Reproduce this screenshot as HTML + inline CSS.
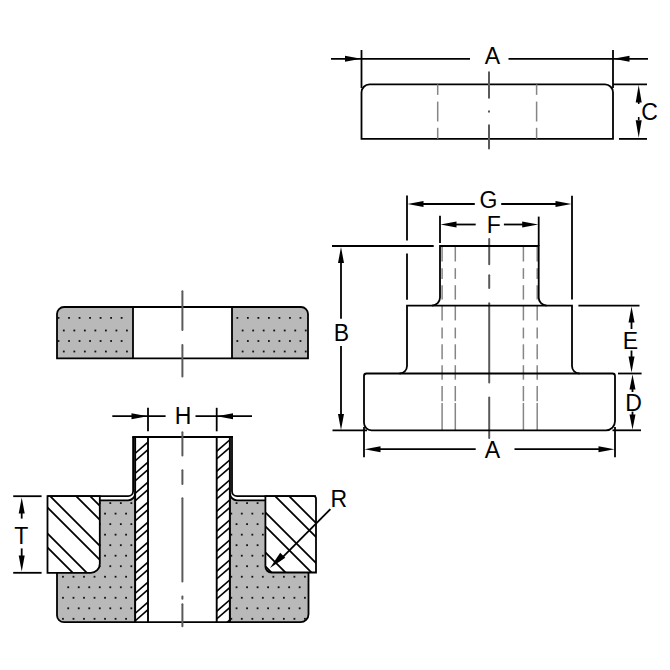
<!DOCTYPE html>
<html><head><meta charset="utf-8"><style>
html,body{margin:0;padding:0;background:#fff;}
svg{display:block;}
text{font-family:"Liberation Sans",sans-serif;fill:#000;}
</style></head><body>
<svg width="670" height="670" viewBox="0 0 670 670">
<rect width="670" height="670" fill="#fff"/>
<path d="M361.5,138.9 V92.4 A8,8 0 0 1 369.5,84.4 H605 A8,8 0 0 1 613,92.4 V138.9 Z" fill="none" stroke="#000" stroke-width="1.8"/>
<line x1="361.5" y1="50" x2="361.5" y2="88" stroke="#000" stroke-width="1.8" stroke-linecap="butt"/>
<line x1="613" y1="50" x2="613" y2="88" stroke="#000" stroke-width="1.8" stroke-linecap="butt"/>
<line x1="613" y1="84.4" x2="647" y2="84.4" stroke="#000" stroke-width="1.8" stroke-linecap="butt"/>
<line x1="619" y1="138.9" x2="647" y2="138.9" stroke="#000" stroke-width="1.8" stroke-linecap="butt"/>
<line x1="331" y1="58.8" x2="470" y2="58.8" stroke="#000" stroke-width="1.8" stroke-linecap="butt"/>
<line x1="508.5" y1="58.8" x2="648" y2="58.8" stroke="#000" stroke-width="1.8" stroke-linecap="butt"/>
<polygon points="361,58.8 345.00,61.80 345.00,55.80" fill="#000"/>
<polygon points="613.5,58.8 629.50,55.80 629.50,61.80" fill="#000"/>
<text x="492.4" y="63.9" font-size="23" text-anchor="middle">A</text>
<polygon points="638.7,85 641.70,102.50 635.70,102.50" fill="#000"/>
<polygon points="638.7,137.8 635.70,120.30 641.70,120.30" fill="#000"/>
<line x1="638.7" y1="100" x2="638.7" y2="104" stroke="#000" stroke-width="1.6" stroke-linecap="butt"/>
<line x1="638.7" y1="117" x2="638.7" y2="120" stroke="#000" stroke-width="1.6" stroke-linecap="butt"/>
<text x="649.5" y="119.8" font-size="23" text-anchor="middle">C</text>
<line x1="489" y1="72.2" x2="489" y2="97.8" stroke="#5a5a5a" stroke-width="2.0" stroke-linecap="round"/>
<line x1="489" y1="111.8" x2="489" y2="111.2" stroke="#5a5a5a" stroke-width="2.0" stroke-linecap="round"/>
<line x1="489" y1="125.2" x2="489" y2="148.6" stroke="#5a5a5a" stroke-width="2.0" stroke-linecap="round"/>
<line x1="437.7" y1="84.4" x2="437.7" y2="94.9" stroke="#858585" stroke-width="1.5" stroke-linecap="butt"/>
<line x1="437.7" y1="101.6" x2="437.7" y2="121.5" stroke="#858585" stroke-width="1.5" stroke-linecap="butt"/>
<line x1="437.7" y1="127.8" x2="437.7" y2="138.7" stroke="#858585" stroke-width="1.5" stroke-linecap="butt"/>
<line x1="536.6" y1="84.4" x2="536.6" y2="94.9" stroke="#858585" stroke-width="1.5" stroke-linecap="butt"/>
<line x1="536.6" y1="101.6" x2="536.6" y2="121.5" stroke="#858585" stroke-width="1.5" stroke-linecap="butt"/>
<line x1="536.6" y1="127.8" x2="536.6" y2="138.7" stroke="#858585" stroke-width="1.5" stroke-linecap="butt"/>
<line x1="442.1" y1="246" x2="442.1" y2="261.5" stroke="#858585" stroke-width="1.5" stroke-linecap="butt"/>
<line x1="442.1" y1="268.2" x2="442.1" y2="278.9" stroke="#858585" stroke-width="1.5" stroke-linecap="butt"/>
<line x1="442.1" y1="285.2" x2="442.1" y2="299.6" stroke="#858585" stroke-width="1.5" stroke-linecap="butt"/>
<line x1="442.1" y1="306" x2="442.1" y2="320.4" stroke="#858585" stroke-width="1.5" stroke-linecap="butt"/>
<line x1="442.1" y1="327.6" x2="442.1" y2="338.4" stroke="#858585" stroke-width="1.5" stroke-linecap="butt"/>
<line x1="442.1" y1="344.3" x2="442.1" y2="359.3" stroke="#858585" stroke-width="1.5" stroke-linecap="butt"/>
<line x1="442.1" y1="365.2" x2="442.1" y2="379.7" stroke="#858585" stroke-width="1.5" stroke-linecap="butt"/>
<line x1="442.1" y1="386" x2="442.1" y2="401.2" stroke="#858585" stroke-width="1.5" stroke-linecap="butt"/>
<line x1="442.1" y1="403" x2="442.1" y2="430" stroke="#858585" stroke-width="1.5" stroke-linecap="butt"/>
<line x1="455.3" y1="246" x2="455.3" y2="261.5" stroke="#858585" stroke-width="1.5" stroke-linecap="butt"/>
<line x1="455.3" y1="268.2" x2="455.3" y2="278.9" stroke="#858585" stroke-width="1.5" stroke-linecap="butt"/>
<line x1="455.3" y1="285.2" x2="455.3" y2="299.6" stroke="#858585" stroke-width="1.5" stroke-linecap="butt"/>
<line x1="455.3" y1="306" x2="455.3" y2="320.4" stroke="#858585" stroke-width="1.5" stroke-linecap="butt"/>
<line x1="455.3" y1="327.6" x2="455.3" y2="338.4" stroke="#858585" stroke-width="1.5" stroke-linecap="butt"/>
<line x1="455.3" y1="344.3" x2="455.3" y2="359.3" stroke="#858585" stroke-width="1.5" stroke-linecap="butt"/>
<line x1="455.3" y1="365.2" x2="455.3" y2="379.7" stroke="#858585" stroke-width="1.5" stroke-linecap="butt"/>
<line x1="455.3" y1="386" x2="455.3" y2="401.2" stroke="#858585" stroke-width="1.5" stroke-linecap="butt"/>
<line x1="455.3" y1="403" x2="455.3" y2="430" stroke="#858585" stroke-width="1.5" stroke-linecap="butt"/>
<line x1="523.4" y1="246" x2="523.4" y2="261.5" stroke="#858585" stroke-width="1.5" stroke-linecap="butt"/>
<line x1="523.4" y1="268.2" x2="523.4" y2="278.9" stroke="#858585" stroke-width="1.5" stroke-linecap="butt"/>
<line x1="523.4" y1="285.2" x2="523.4" y2="299.6" stroke="#858585" stroke-width="1.5" stroke-linecap="butt"/>
<line x1="523.4" y1="306" x2="523.4" y2="320.4" stroke="#858585" stroke-width="1.5" stroke-linecap="butt"/>
<line x1="523.4" y1="327.6" x2="523.4" y2="338.4" stroke="#858585" stroke-width="1.5" stroke-linecap="butt"/>
<line x1="523.4" y1="344.3" x2="523.4" y2="359.3" stroke="#858585" stroke-width="1.5" stroke-linecap="butt"/>
<line x1="523.4" y1="365.2" x2="523.4" y2="379.7" stroke="#858585" stroke-width="1.5" stroke-linecap="butt"/>
<line x1="523.4" y1="386" x2="523.4" y2="401.2" stroke="#858585" stroke-width="1.5" stroke-linecap="butt"/>
<line x1="523.4" y1="403" x2="523.4" y2="430" stroke="#858585" stroke-width="1.5" stroke-linecap="butt"/>
<line x1="537.2" y1="246" x2="537.2" y2="261.5" stroke="#858585" stroke-width="1.5" stroke-linecap="butt"/>
<line x1="537.2" y1="268.2" x2="537.2" y2="278.9" stroke="#858585" stroke-width="1.5" stroke-linecap="butt"/>
<line x1="537.2" y1="285.2" x2="537.2" y2="299.6" stroke="#858585" stroke-width="1.5" stroke-linecap="butt"/>
<line x1="537.2" y1="306" x2="537.2" y2="320.4" stroke="#858585" stroke-width="1.5" stroke-linecap="butt"/>
<line x1="537.2" y1="327.6" x2="537.2" y2="338.4" stroke="#858585" stroke-width="1.5" stroke-linecap="butt"/>
<line x1="537.2" y1="344.3" x2="537.2" y2="359.3" stroke="#858585" stroke-width="1.5" stroke-linecap="butt"/>
<line x1="537.2" y1="365.2" x2="537.2" y2="379.7" stroke="#858585" stroke-width="1.5" stroke-linecap="butt"/>
<line x1="537.2" y1="386" x2="537.2" y2="401.2" stroke="#858585" stroke-width="1.5" stroke-linecap="butt"/>
<line x1="537.2" y1="403" x2="537.2" y2="430" stroke="#858585" stroke-width="1.5" stroke-linecap="butt"/>
<line x1="489.2" y1="239" x2="489.2" y2="264.3" stroke="#5a5a5a" stroke-width="2.0" stroke-linecap="round"/>
<line x1="489.2" y1="275.3" x2="489.2" y2="288.1" stroke="#5a5a5a" stroke-width="2.0" stroke-linecap="round"/>
<line x1="489.2" y1="303.2" x2="489.2" y2="382.4" stroke="#5a5a5a" stroke-width="2.0" stroke-linecap="round"/>
<line x1="489.2" y1="397.5" x2="489.2" y2="438" stroke="#5a5a5a" stroke-width="2.0" stroke-linecap="round"/>
<path d="M440,246 H538.7 V297.5 A8,8 0 0 0 546.7,305.6 H572 V366 A7.5,7.5 0 0 0 579.5,373.5 H612.5 A2.5,2.5 0 0 1 615,376 V421 A9,9 0 0 1 606,430.3 H371.5 A7.5,7.5 0 0 1 364,422.8 V376 A2.5,2.5 0 0 1 366.5,373.5 H399.5 A7.5,7.5 0 0 0 407,366 V305.6 H432 A8,8 0 0 0 440,297.5 Z" fill="none" stroke="#000" stroke-width="1.8"/>
<line x1="432" y1="305.6" x2="546.7" y2="305.6" stroke="#000" stroke-width="1.8" stroke-linecap="butt"/>
<line x1="399.5" y1="373.5" x2="579.5" y2="373.5" stroke="#000" stroke-width="1.8" stroke-linecap="butt"/>
<line x1="407" y1="195.5" x2="407" y2="240.4" stroke="#000" stroke-width="1.8" stroke-linecap="butt"/>
<line x1="407" y1="253.5" x2="407" y2="299.8" stroke="#000" stroke-width="1.8" stroke-linecap="butt"/>
<line x1="572" y1="195.7" x2="572" y2="299.4" stroke="#000" stroke-width="1.8" stroke-linecap="butt"/>
<line x1="440" y1="215.8" x2="440" y2="243" stroke="#000" stroke-width="1.8" stroke-linecap="butt"/>
<line x1="538.7" y1="216.6" x2="538.7" y2="246" stroke="#000" stroke-width="1.8" stroke-linecap="butt"/>
<line x1="332" y1="246" x2="433.7" y2="246" stroke="#000" stroke-width="1.8" stroke-linecap="butt"/>
<line x1="332.5" y1="430.3" x2="367" y2="430.3" stroke="#000" stroke-width="1.8" stroke-linecap="butt"/>
<line x1="612.5" y1="430.3" x2="641" y2="430.3" stroke="#000" stroke-width="1.8" stroke-linecap="butt"/>
<line x1="578.4" y1="305.6" x2="639.5" y2="305.6" stroke="#000" stroke-width="1.8" stroke-linecap="butt"/>
<line x1="618" y1="373.5" x2="641.6" y2="373.5" stroke="#000" stroke-width="1.8" stroke-linecap="butt"/>
<line x1="364" y1="427" x2="364" y2="457.3" stroke="#000" stroke-width="1.8" stroke-linecap="butt"/>
<line x1="615" y1="427" x2="615" y2="457.3" stroke="#000" stroke-width="1.8" stroke-linecap="butt"/>
<line x1="415" y1="204" x2="474.8" y2="204" stroke="#000" stroke-width="1.8" stroke-linecap="butt"/>
<line x1="501.2" y1="204" x2="564" y2="204" stroke="#000" stroke-width="1.8" stroke-linecap="butt"/>
<polygon points="407.5,204 423.50,201.00 423.50,207.00" fill="#000"/>
<polygon points="571.5,204 555.50,207.00 555.50,201.00" fill="#000"/>
<text x="488.5" y="207.8" font-size="23" text-anchor="middle">G</text>
<line x1="448" y1="224.5" x2="475.7" y2="224.5" stroke="#000" stroke-width="1.8" stroke-linecap="butt"/>
<line x1="503.9" y1="224.5" x2="531" y2="224.5" stroke="#000" stroke-width="1.8" stroke-linecap="butt"/>
<polygon points="440.5,224.5 456.50,221.50 456.50,227.50" fill="#000"/>
<polygon points="538.2,224.5 522.20,227.50 522.20,221.50" fill="#000"/>
<text x="493.8" y="232.8" font-size="23" text-anchor="middle">F</text>
<line x1="341" y1="255" x2="341" y2="318.8" stroke="#000" stroke-width="1.8" stroke-linecap="butt"/>
<line x1="341" y1="346.1" x2="341" y2="422" stroke="#000" stroke-width="1.8" stroke-linecap="butt"/>
<polygon points="341,247 344.00,263.00 338.00,263.00" fill="#000"/>
<polygon points="341,430 338.00,414.00 344.00,414.00" fill="#000"/>
<text x="341.3" y="340.7" font-size="23" text-anchor="middle">B</text>
<polygon points="631.5,306.5 634.50,322.50 628.50,322.50" fill="#000"/>
<line x1="631.5" y1="320" x2="631.5" y2="329" stroke="#000" stroke-width="1.8" stroke-linecap="butt"/>
<polygon points="631.5,372.5 628.50,356.50 634.50,356.50" fill="#000"/>
<line x1="631.5" y1="350.5" x2="631.5" y2="358" stroke="#000" stroke-width="1.8" stroke-linecap="butt"/>
<text x="630.4" y="349.1" font-size="23" text-anchor="middle">E</text>
<polygon points="632.5,374.5 635.50,389.50 629.50,389.50" fill="#000"/>
<line x1="632.5" y1="388" x2="632.5" y2="392" stroke="#000" stroke-width="1.8" stroke-linecap="butt"/>
<polygon points="632.5,429.5 629.50,414.50 635.50,414.50" fill="#000"/>
<line x1="632.5" y1="411.6" x2="632.5" y2="416" stroke="#000" stroke-width="1.8" stroke-linecap="butt"/>
<text x="633.6" y="411.0" font-size="23" text-anchor="middle">D</text>
<line x1="372" y1="449.2" x2="475.7" y2="449.2" stroke="#000" stroke-width="1.8" stroke-linecap="butt"/>
<line x1="514.5" y1="449.2" x2="607" y2="449.2" stroke="#000" stroke-width="1.8" stroke-linecap="butt"/>
<polygon points="364.5,449.2 380.50,446.20 380.50,452.20" fill="#000"/>
<polygon points="614.5,449.2 598.50,452.20 598.50,446.20" fill="#000"/>
<text x="492.3" y="457.8" font-size="23" text-anchor="middle">A</text>
<path d="M57,358.4 V314 A7,7 0 0 1 64,307 H133 V358.4 Z" fill="#b9b9b9"/>
<path d="M232,358.4 V307 H301 A7,7 0 0 1 308,314 V358.4 Z" fill="#b9b9b9"/>
<rect x="57.60" y="317.00" width="1.8" height="1.8" fill="#111"/>
<rect x="68.12" y="317.00" width="1.8" height="1.8" fill="#111"/>
<rect x="78.64" y="317.00" width="1.8" height="1.8" fill="#111"/>
<rect x="89.16" y="317.00" width="1.8" height="1.8" fill="#111"/>
<rect x="99.68" y="317.00" width="1.8" height="1.8" fill="#111"/>
<rect x="110.20" y="317.00" width="1.8" height="1.8" fill="#111"/>
<rect x="120.72" y="317.00" width="1.8" height="1.8" fill="#111"/>
<rect x="62.90" y="329.60" width="1.8" height="1.8" fill="#111"/>
<rect x="73.42" y="329.60" width="1.8" height="1.8" fill="#111"/>
<rect x="83.94" y="329.60" width="1.8" height="1.8" fill="#111"/>
<rect x="94.46" y="329.60" width="1.8" height="1.8" fill="#111"/>
<rect x="104.98" y="329.60" width="1.8" height="1.8" fill="#111"/>
<rect x="115.50" y="329.60" width="1.8" height="1.8" fill="#111"/>
<rect x="126.02" y="329.60" width="1.8" height="1.8" fill="#111"/>
<rect x="57.60" y="340.10" width="1.8" height="1.8" fill="#111"/>
<rect x="68.12" y="340.10" width="1.8" height="1.8" fill="#111"/>
<rect x="78.64" y="340.10" width="1.8" height="1.8" fill="#111"/>
<rect x="89.16" y="340.10" width="1.8" height="1.8" fill="#111"/>
<rect x="99.68" y="340.10" width="1.8" height="1.8" fill="#111"/>
<rect x="110.20" y="340.10" width="1.8" height="1.8" fill="#111"/>
<rect x="120.72" y="340.10" width="1.8" height="1.8" fill="#111"/>
<rect x="62.90" y="350.60" width="1.8" height="1.8" fill="#111"/>
<rect x="73.42" y="350.60" width="1.8" height="1.8" fill="#111"/>
<rect x="83.94" y="350.60" width="1.8" height="1.8" fill="#111"/>
<rect x="94.46" y="350.60" width="1.8" height="1.8" fill="#111"/>
<rect x="104.98" y="350.60" width="1.8" height="1.8" fill="#111"/>
<rect x="115.50" y="350.60" width="1.8" height="1.8" fill="#111"/>
<rect x="126.02" y="350.60" width="1.8" height="1.8" fill="#111"/>
<rect x="236.44" y="317.00" width="1.8" height="1.8" fill="#111"/>
<rect x="246.96" y="317.00" width="1.8" height="1.8" fill="#111"/>
<rect x="257.48" y="317.00" width="1.8" height="1.8" fill="#111"/>
<rect x="268.00" y="317.00" width="1.8" height="1.8" fill="#111"/>
<rect x="278.52" y="317.00" width="1.8" height="1.8" fill="#111"/>
<rect x="289.04" y="317.00" width="1.8" height="1.8" fill="#111"/>
<rect x="299.56" y="317.00" width="1.8" height="1.8" fill="#111"/>
<rect x="241.74" y="329.60" width="1.8" height="1.8" fill="#111"/>
<rect x="252.26" y="329.60" width="1.8" height="1.8" fill="#111"/>
<rect x="262.78" y="329.60" width="1.8" height="1.8" fill="#111"/>
<rect x="273.30" y="329.60" width="1.8" height="1.8" fill="#111"/>
<rect x="283.82" y="329.60" width="1.8" height="1.8" fill="#111"/>
<rect x="294.34" y="329.60" width="1.8" height="1.8" fill="#111"/>
<rect x="304.86" y="329.60" width="1.8" height="1.8" fill="#111"/>
<rect x="236.44" y="340.10" width="1.8" height="1.8" fill="#111"/>
<rect x="246.96" y="340.10" width="1.8" height="1.8" fill="#111"/>
<rect x="257.48" y="340.10" width="1.8" height="1.8" fill="#111"/>
<rect x="268.00" y="340.10" width="1.8" height="1.8" fill="#111"/>
<rect x="278.52" y="340.10" width="1.8" height="1.8" fill="#111"/>
<rect x="289.04" y="340.10" width="1.8" height="1.8" fill="#111"/>
<rect x="299.56" y="340.10" width="1.8" height="1.8" fill="#111"/>
<rect x="241.74" y="350.60" width="1.8" height="1.8" fill="#111"/>
<rect x="252.26" y="350.60" width="1.8" height="1.8" fill="#111"/>
<rect x="262.78" y="350.60" width="1.8" height="1.8" fill="#111"/>
<rect x="273.30" y="350.60" width="1.8" height="1.8" fill="#111"/>
<rect x="283.82" y="350.60" width="1.8" height="1.8" fill="#111"/>
<rect x="294.34" y="350.60" width="1.8" height="1.8" fill="#111"/>
<rect x="304.86" y="350.60" width="1.8" height="1.8" fill="#111"/>
<path d="M57,358.4 V314 A7,7 0 0 1 64,307 H301 A7,7 0 0 1 308,314 V358.4 Z" fill="none" stroke="#000" stroke-width="1.8"/>
<line x1="133" y1="307" x2="133" y2="358.4" stroke="#000" stroke-width="1.8" stroke-linecap="butt"/>
<line x1="232" y1="307" x2="232" y2="358.4" stroke="#000" stroke-width="1.8" stroke-linecap="butt"/>
<line x1="182.4" y1="291.2" x2="182.4" y2="330" stroke="#5a5a5a" stroke-width="2.0" stroke-linecap="round"/>
<line x1="182.4" y1="345" x2="182.4" y2="376.5" stroke="#5a5a5a" stroke-width="2.0" stroke-linecap="round"/>
<path d="M135.1,493.3 A7,7 0 0 1 128.1,500.3 H90 V572.8 H57 V615 A7,7 0 0 0 64,622.2 H300.5 A8,8 0 0 0 308.5,614.2 V572.5 H275 V500.3 H237 A7,7 0 0 1 230,493.3 V622.2 H135.1 Z" fill="#b9b9b9"/>
<clipPath id="bc"><path d="M135.1,493.3 A7,7 0 0 1 128.1,500.3 H90 V572.8 H57 V615 A7,7 0 0 0 64,622.2 H300.5 A8,8 0 0 0 308.5,614.2 V572.5 H275 V500.3 H237 A7,7 0 0 1 230,493.3 V622.2 H135.1 Z"/></clipPath>
<g clip-path="url(#bc)">
<rect x="67.32" y="502.20" width="1.8" height="1.8" fill="#111"/>
<rect x="77.84" y="502.20" width="1.8" height="1.8" fill="#111"/>
<rect x="88.36" y="502.20" width="1.8" height="1.8" fill="#111"/>
<rect x="98.88" y="502.20" width="1.8" height="1.8" fill="#111"/>
<rect x="109.40" y="502.20" width="1.8" height="1.8" fill="#111"/>
<rect x="119.92" y="502.20" width="1.8" height="1.8" fill="#111"/>
<rect x="130.44" y="502.20" width="1.8" height="1.8" fill="#111"/>
<rect x="140.96" y="502.20" width="1.8" height="1.8" fill="#111"/>
<rect x="151.48" y="502.20" width="1.8" height="1.8" fill="#111"/>
<rect x="162.00" y="502.20" width="1.8" height="1.8" fill="#111"/>
<rect x="172.52" y="502.20" width="1.8" height="1.8" fill="#111"/>
<rect x="183.04" y="502.20" width="1.8" height="1.8" fill="#111"/>
<rect x="193.56" y="502.20" width="1.8" height="1.8" fill="#111"/>
<rect x="204.08" y="502.20" width="1.8" height="1.8" fill="#111"/>
<rect x="214.60" y="502.20" width="1.8" height="1.8" fill="#111"/>
<rect x="225.12" y="502.20" width="1.8" height="1.8" fill="#111"/>
<rect x="235.64" y="502.20" width="1.8" height="1.8" fill="#111"/>
<rect x="246.16" y="502.20" width="1.8" height="1.8" fill="#111"/>
<rect x="256.68" y="502.20" width="1.8" height="1.8" fill="#111"/>
<rect x="267.20" y="502.20" width="1.8" height="1.8" fill="#111"/>
<rect x="277.72" y="502.20" width="1.8" height="1.8" fill="#111"/>
<rect x="288.24" y="502.20" width="1.8" height="1.8" fill="#111"/>
<rect x="298.76" y="502.20" width="1.8" height="1.8" fill="#111"/>
<rect x="62.06" y="512.72" width="1.8" height="1.8" fill="#111"/>
<rect x="72.58" y="512.72" width="1.8" height="1.8" fill="#111"/>
<rect x="83.10" y="512.72" width="1.8" height="1.8" fill="#111"/>
<rect x="93.62" y="512.72" width="1.8" height="1.8" fill="#111"/>
<rect x="104.14" y="512.72" width="1.8" height="1.8" fill="#111"/>
<rect x="114.66" y="512.72" width="1.8" height="1.8" fill="#111"/>
<rect x="125.18" y="512.72" width="1.8" height="1.8" fill="#111"/>
<rect x="135.70" y="512.72" width="1.8" height="1.8" fill="#111"/>
<rect x="146.22" y="512.72" width="1.8" height="1.8" fill="#111"/>
<rect x="156.74" y="512.72" width="1.8" height="1.8" fill="#111"/>
<rect x="167.26" y="512.72" width="1.8" height="1.8" fill="#111"/>
<rect x="177.78" y="512.72" width="1.8" height="1.8" fill="#111"/>
<rect x="188.30" y="512.72" width="1.8" height="1.8" fill="#111"/>
<rect x="198.82" y="512.72" width="1.8" height="1.8" fill="#111"/>
<rect x="209.34" y="512.72" width="1.8" height="1.8" fill="#111"/>
<rect x="219.86" y="512.72" width="1.8" height="1.8" fill="#111"/>
<rect x="230.38" y="512.72" width="1.8" height="1.8" fill="#111"/>
<rect x="240.90" y="512.72" width="1.8" height="1.8" fill="#111"/>
<rect x="251.42" y="512.72" width="1.8" height="1.8" fill="#111"/>
<rect x="261.94" y="512.72" width="1.8" height="1.8" fill="#111"/>
<rect x="272.46" y="512.72" width="1.8" height="1.8" fill="#111"/>
<rect x="282.98" y="512.72" width="1.8" height="1.8" fill="#111"/>
<rect x="293.50" y="512.72" width="1.8" height="1.8" fill="#111"/>
<rect x="304.02" y="512.72" width="1.8" height="1.8" fill="#111"/>
<rect x="67.32" y="523.24" width="1.8" height="1.8" fill="#111"/>
<rect x="77.84" y="523.24" width="1.8" height="1.8" fill="#111"/>
<rect x="88.36" y="523.24" width="1.8" height="1.8" fill="#111"/>
<rect x="98.88" y="523.24" width="1.8" height="1.8" fill="#111"/>
<rect x="109.40" y="523.24" width="1.8" height="1.8" fill="#111"/>
<rect x="119.92" y="523.24" width="1.8" height="1.8" fill="#111"/>
<rect x="130.44" y="523.24" width="1.8" height="1.8" fill="#111"/>
<rect x="140.96" y="523.24" width="1.8" height="1.8" fill="#111"/>
<rect x="151.48" y="523.24" width="1.8" height="1.8" fill="#111"/>
<rect x="162.00" y="523.24" width="1.8" height="1.8" fill="#111"/>
<rect x="172.52" y="523.24" width="1.8" height="1.8" fill="#111"/>
<rect x="183.04" y="523.24" width="1.8" height="1.8" fill="#111"/>
<rect x="193.56" y="523.24" width="1.8" height="1.8" fill="#111"/>
<rect x="204.08" y="523.24" width="1.8" height="1.8" fill="#111"/>
<rect x="214.60" y="523.24" width="1.8" height="1.8" fill="#111"/>
<rect x="225.12" y="523.24" width="1.8" height="1.8" fill="#111"/>
<rect x="235.64" y="523.24" width="1.8" height="1.8" fill="#111"/>
<rect x="246.16" y="523.24" width="1.8" height="1.8" fill="#111"/>
<rect x="256.68" y="523.24" width="1.8" height="1.8" fill="#111"/>
<rect x="267.20" y="523.24" width="1.8" height="1.8" fill="#111"/>
<rect x="277.72" y="523.24" width="1.8" height="1.8" fill="#111"/>
<rect x="288.24" y="523.24" width="1.8" height="1.8" fill="#111"/>
<rect x="298.76" y="523.24" width="1.8" height="1.8" fill="#111"/>
<rect x="62.06" y="533.76" width="1.8" height="1.8" fill="#111"/>
<rect x="72.58" y="533.76" width="1.8" height="1.8" fill="#111"/>
<rect x="83.10" y="533.76" width="1.8" height="1.8" fill="#111"/>
<rect x="93.62" y="533.76" width="1.8" height="1.8" fill="#111"/>
<rect x="104.14" y="533.76" width="1.8" height="1.8" fill="#111"/>
<rect x="114.66" y="533.76" width="1.8" height="1.8" fill="#111"/>
<rect x="125.18" y="533.76" width="1.8" height="1.8" fill="#111"/>
<rect x="135.70" y="533.76" width="1.8" height="1.8" fill="#111"/>
<rect x="146.22" y="533.76" width="1.8" height="1.8" fill="#111"/>
<rect x="156.74" y="533.76" width="1.8" height="1.8" fill="#111"/>
<rect x="167.26" y="533.76" width="1.8" height="1.8" fill="#111"/>
<rect x="177.78" y="533.76" width="1.8" height="1.8" fill="#111"/>
<rect x="188.30" y="533.76" width="1.8" height="1.8" fill="#111"/>
<rect x="198.82" y="533.76" width="1.8" height="1.8" fill="#111"/>
<rect x="209.34" y="533.76" width="1.8" height="1.8" fill="#111"/>
<rect x="219.86" y="533.76" width="1.8" height="1.8" fill="#111"/>
<rect x="230.38" y="533.76" width="1.8" height="1.8" fill="#111"/>
<rect x="240.90" y="533.76" width="1.8" height="1.8" fill="#111"/>
<rect x="251.42" y="533.76" width="1.8" height="1.8" fill="#111"/>
<rect x="261.94" y="533.76" width="1.8" height="1.8" fill="#111"/>
<rect x="272.46" y="533.76" width="1.8" height="1.8" fill="#111"/>
<rect x="282.98" y="533.76" width="1.8" height="1.8" fill="#111"/>
<rect x="293.50" y="533.76" width="1.8" height="1.8" fill="#111"/>
<rect x="304.02" y="533.76" width="1.8" height="1.8" fill="#111"/>
<rect x="67.32" y="544.28" width="1.8" height="1.8" fill="#111"/>
<rect x="77.84" y="544.28" width="1.8" height="1.8" fill="#111"/>
<rect x="88.36" y="544.28" width="1.8" height="1.8" fill="#111"/>
<rect x="98.88" y="544.28" width="1.8" height="1.8" fill="#111"/>
<rect x="109.40" y="544.28" width="1.8" height="1.8" fill="#111"/>
<rect x="119.92" y="544.28" width="1.8" height="1.8" fill="#111"/>
<rect x="130.44" y="544.28" width="1.8" height="1.8" fill="#111"/>
<rect x="140.96" y="544.28" width="1.8" height="1.8" fill="#111"/>
<rect x="151.48" y="544.28" width="1.8" height="1.8" fill="#111"/>
<rect x="162.00" y="544.28" width="1.8" height="1.8" fill="#111"/>
<rect x="172.52" y="544.28" width="1.8" height="1.8" fill="#111"/>
<rect x="183.04" y="544.28" width="1.8" height="1.8" fill="#111"/>
<rect x="193.56" y="544.28" width="1.8" height="1.8" fill="#111"/>
<rect x="204.08" y="544.28" width="1.8" height="1.8" fill="#111"/>
<rect x="214.60" y="544.28" width="1.8" height="1.8" fill="#111"/>
<rect x="225.12" y="544.28" width="1.8" height="1.8" fill="#111"/>
<rect x="235.64" y="544.28" width="1.8" height="1.8" fill="#111"/>
<rect x="246.16" y="544.28" width="1.8" height="1.8" fill="#111"/>
<rect x="256.68" y="544.28" width="1.8" height="1.8" fill="#111"/>
<rect x="267.20" y="544.28" width="1.8" height="1.8" fill="#111"/>
<rect x="277.72" y="544.28" width="1.8" height="1.8" fill="#111"/>
<rect x="288.24" y="544.28" width="1.8" height="1.8" fill="#111"/>
<rect x="298.76" y="544.28" width="1.8" height="1.8" fill="#111"/>
<rect x="62.06" y="554.80" width="1.8" height="1.8" fill="#111"/>
<rect x="72.58" y="554.80" width="1.8" height="1.8" fill="#111"/>
<rect x="83.10" y="554.80" width="1.8" height="1.8" fill="#111"/>
<rect x="93.62" y="554.80" width="1.8" height="1.8" fill="#111"/>
<rect x="104.14" y="554.80" width="1.8" height="1.8" fill="#111"/>
<rect x="114.66" y="554.80" width="1.8" height="1.8" fill="#111"/>
<rect x="125.18" y="554.80" width="1.8" height="1.8" fill="#111"/>
<rect x="135.70" y="554.80" width="1.8" height="1.8" fill="#111"/>
<rect x="146.22" y="554.80" width="1.8" height="1.8" fill="#111"/>
<rect x="156.74" y="554.80" width="1.8" height="1.8" fill="#111"/>
<rect x="167.26" y="554.80" width="1.8" height="1.8" fill="#111"/>
<rect x="177.78" y="554.80" width="1.8" height="1.8" fill="#111"/>
<rect x="188.30" y="554.80" width="1.8" height="1.8" fill="#111"/>
<rect x="198.82" y="554.80" width="1.8" height="1.8" fill="#111"/>
<rect x="209.34" y="554.80" width="1.8" height="1.8" fill="#111"/>
<rect x="219.86" y="554.80" width="1.8" height="1.8" fill="#111"/>
<rect x="230.38" y="554.80" width="1.8" height="1.8" fill="#111"/>
<rect x="240.90" y="554.80" width="1.8" height="1.8" fill="#111"/>
<rect x="251.42" y="554.80" width="1.8" height="1.8" fill="#111"/>
<rect x="261.94" y="554.80" width="1.8" height="1.8" fill="#111"/>
<rect x="272.46" y="554.80" width="1.8" height="1.8" fill="#111"/>
<rect x="282.98" y="554.80" width="1.8" height="1.8" fill="#111"/>
<rect x="293.50" y="554.80" width="1.8" height="1.8" fill="#111"/>
<rect x="304.02" y="554.80" width="1.8" height="1.8" fill="#111"/>
<rect x="67.32" y="565.32" width="1.8" height="1.8" fill="#111"/>
<rect x="77.84" y="565.32" width="1.8" height="1.8" fill="#111"/>
<rect x="88.36" y="565.32" width="1.8" height="1.8" fill="#111"/>
<rect x="98.88" y="565.32" width="1.8" height="1.8" fill="#111"/>
<rect x="109.40" y="565.32" width="1.8" height="1.8" fill="#111"/>
<rect x="119.92" y="565.32" width="1.8" height="1.8" fill="#111"/>
<rect x="130.44" y="565.32" width="1.8" height="1.8" fill="#111"/>
<rect x="140.96" y="565.32" width="1.8" height="1.8" fill="#111"/>
<rect x="151.48" y="565.32" width="1.8" height="1.8" fill="#111"/>
<rect x="162.00" y="565.32" width="1.8" height="1.8" fill="#111"/>
<rect x="172.52" y="565.32" width="1.8" height="1.8" fill="#111"/>
<rect x="183.04" y="565.32" width="1.8" height="1.8" fill="#111"/>
<rect x="193.56" y="565.32" width="1.8" height="1.8" fill="#111"/>
<rect x="204.08" y="565.32" width="1.8" height="1.8" fill="#111"/>
<rect x="214.60" y="565.32" width="1.8" height="1.8" fill="#111"/>
<rect x="225.12" y="565.32" width="1.8" height="1.8" fill="#111"/>
<rect x="235.64" y="565.32" width="1.8" height="1.8" fill="#111"/>
<rect x="246.16" y="565.32" width="1.8" height="1.8" fill="#111"/>
<rect x="256.68" y="565.32" width="1.8" height="1.8" fill="#111"/>
<rect x="267.20" y="565.32" width="1.8" height="1.8" fill="#111"/>
<rect x="277.72" y="565.32" width="1.8" height="1.8" fill="#111"/>
<rect x="288.24" y="565.32" width="1.8" height="1.8" fill="#111"/>
<rect x="298.76" y="565.32" width="1.8" height="1.8" fill="#111"/>
<rect x="62.06" y="575.84" width="1.8" height="1.8" fill="#111"/>
<rect x="72.58" y="575.84" width="1.8" height="1.8" fill="#111"/>
<rect x="83.10" y="575.84" width="1.8" height="1.8" fill="#111"/>
<rect x="93.62" y="575.84" width="1.8" height="1.8" fill="#111"/>
<rect x="104.14" y="575.84" width="1.8" height="1.8" fill="#111"/>
<rect x="114.66" y="575.84" width="1.8" height="1.8" fill="#111"/>
<rect x="125.18" y="575.84" width="1.8" height="1.8" fill="#111"/>
<rect x="135.70" y="575.84" width="1.8" height="1.8" fill="#111"/>
<rect x="146.22" y="575.84" width="1.8" height="1.8" fill="#111"/>
<rect x="156.74" y="575.84" width="1.8" height="1.8" fill="#111"/>
<rect x="167.26" y="575.84" width="1.8" height="1.8" fill="#111"/>
<rect x="177.78" y="575.84" width="1.8" height="1.8" fill="#111"/>
<rect x="188.30" y="575.84" width="1.8" height="1.8" fill="#111"/>
<rect x="198.82" y="575.84" width="1.8" height="1.8" fill="#111"/>
<rect x="209.34" y="575.84" width="1.8" height="1.8" fill="#111"/>
<rect x="219.86" y="575.84" width="1.8" height="1.8" fill="#111"/>
<rect x="230.38" y="575.84" width="1.8" height="1.8" fill="#111"/>
<rect x="240.90" y="575.84" width="1.8" height="1.8" fill="#111"/>
<rect x="251.42" y="575.84" width="1.8" height="1.8" fill="#111"/>
<rect x="261.94" y="575.84" width="1.8" height="1.8" fill="#111"/>
<rect x="272.46" y="575.84" width="1.8" height="1.8" fill="#111"/>
<rect x="282.98" y="575.84" width="1.8" height="1.8" fill="#111"/>
<rect x="293.50" y="575.84" width="1.8" height="1.8" fill="#111"/>
<rect x="304.02" y="575.84" width="1.8" height="1.8" fill="#111"/>
<rect x="67.32" y="586.36" width="1.8" height="1.8" fill="#111"/>
<rect x="77.84" y="586.36" width="1.8" height="1.8" fill="#111"/>
<rect x="88.36" y="586.36" width="1.8" height="1.8" fill="#111"/>
<rect x="98.88" y="586.36" width="1.8" height="1.8" fill="#111"/>
<rect x="109.40" y="586.36" width="1.8" height="1.8" fill="#111"/>
<rect x="119.92" y="586.36" width="1.8" height="1.8" fill="#111"/>
<rect x="130.44" y="586.36" width="1.8" height="1.8" fill="#111"/>
<rect x="140.96" y="586.36" width="1.8" height="1.8" fill="#111"/>
<rect x="151.48" y="586.36" width="1.8" height="1.8" fill="#111"/>
<rect x="162.00" y="586.36" width="1.8" height="1.8" fill="#111"/>
<rect x="172.52" y="586.36" width="1.8" height="1.8" fill="#111"/>
<rect x="183.04" y="586.36" width="1.8" height="1.8" fill="#111"/>
<rect x="193.56" y="586.36" width="1.8" height="1.8" fill="#111"/>
<rect x="204.08" y="586.36" width="1.8" height="1.8" fill="#111"/>
<rect x="214.60" y="586.36" width="1.8" height="1.8" fill="#111"/>
<rect x="225.12" y="586.36" width="1.8" height="1.8" fill="#111"/>
<rect x="235.64" y="586.36" width="1.8" height="1.8" fill="#111"/>
<rect x="246.16" y="586.36" width="1.8" height="1.8" fill="#111"/>
<rect x="256.68" y="586.36" width="1.8" height="1.8" fill="#111"/>
<rect x="267.20" y="586.36" width="1.8" height="1.8" fill="#111"/>
<rect x="277.72" y="586.36" width="1.8" height="1.8" fill="#111"/>
<rect x="288.24" y="586.36" width="1.8" height="1.8" fill="#111"/>
<rect x="298.76" y="586.36" width="1.8" height="1.8" fill="#111"/>
<rect x="62.06" y="596.88" width="1.8" height="1.8" fill="#111"/>
<rect x="72.58" y="596.88" width="1.8" height="1.8" fill="#111"/>
<rect x="83.10" y="596.88" width="1.8" height="1.8" fill="#111"/>
<rect x="93.62" y="596.88" width="1.8" height="1.8" fill="#111"/>
<rect x="104.14" y="596.88" width="1.8" height="1.8" fill="#111"/>
<rect x="114.66" y="596.88" width="1.8" height="1.8" fill="#111"/>
<rect x="125.18" y="596.88" width="1.8" height="1.8" fill="#111"/>
<rect x="135.70" y="596.88" width="1.8" height="1.8" fill="#111"/>
<rect x="146.22" y="596.88" width="1.8" height="1.8" fill="#111"/>
<rect x="156.74" y="596.88" width="1.8" height="1.8" fill="#111"/>
<rect x="167.26" y="596.88" width="1.8" height="1.8" fill="#111"/>
<rect x="177.78" y="596.88" width="1.8" height="1.8" fill="#111"/>
<rect x="188.30" y="596.88" width="1.8" height="1.8" fill="#111"/>
<rect x="198.82" y="596.88" width="1.8" height="1.8" fill="#111"/>
<rect x="209.34" y="596.88" width="1.8" height="1.8" fill="#111"/>
<rect x="219.86" y="596.88" width="1.8" height="1.8" fill="#111"/>
<rect x="230.38" y="596.88" width="1.8" height="1.8" fill="#111"/>
<rect x="240.90" y="596.88" width="1.8" height="1.8" fill="#111"/>
<rect x="251.42" y="596.88" width="1.8" height="1.8" fill="#111"/>
<rect x="261.94" y="596.88" width="1.8" height="1.8" fill="#111"/>
<rect x="272.46" y="596.88" width="1.8" height="1.8" fill="#111"/>
<rect x="282.98" y="596.88" width="1.8" height="1.8" fill="#111"/>
<rect x="293.50" y="596.88" width="1.8" height="1.8" fill="#111"/>
<rect x="304.02" y="596.88" width="1.8" height="1.8" fill="#111"/>
<rect x="67.32" y="607.40" width="1.8" height="1.8" fill="#111"/>
<rect x="77.84" y="607.40" width="1.8" height="1.8" fill="#111"/>
<rect x="88.36" y="607.40" width="1.8" height="1.8" fill="#111"/>
<rect x="98.88" y="607.40" width="1.8" height="1.8" fill="#111"/>
<rect x="109.40" y="607.40" width="1.8" height="1.8" fill="#111"/>
<rect x="119.92" y="607.40" width="1.8" height="1.8" fill="#111"/>
<rect x="130.44" y="607.40" width="1.8" height="1.8" fill="#111"/>
<rect x="140.96" y="607.40" width="1.8" height="1.8" fill="#111"/>
<rect x="151.48" y="607.40" width="1.8" height="1.8" fill="#111"/>
<rect x="162.00" y="607.40" width="1.8" height="1.8" fill="#111"/>
<rect x="172.52" y="607.40" width="1.8" height="1.8" fill="#111"/>
<rect x="183.04" y="607.40" width="1.8" height="1.8" fill="#111"/>
<rect x="193.56" y="607.40" width="1.8" height="1.8" fill="#111"/>
<rect x="204.08" y="607.40" width="1.8" height="1.8" fill="#111"/>
<rect x="214.60" y="607.40" width="1.8" height="1.8" fill="#111"/>
<rect x="225.12" y="607.40" width="1.8" height="1.8" fill="#111"/>
<rect x="235.64" y="607.40" width="1.8" height="1.8" fill="#111"/>
<rect x="246.16" y="607.40" width="1.8" height="1.8" fill="#111"/>
<rect x="256.68" y="607.40" width="1.8" height="1.8" fill="#111"/>
<rect x="267.20" y="607.40" width="1.8" height="1.8" fill="#111"/>
<rect x="277.72" y="607.40" width="1.8" height="1.8" fill="#111"/>
<rect x="288.24" y="607.40" width="1.8" height="1.8" fill="#111"/>
<rect x="298.76" y="607.40" width="1.8" height="1.8" fill="#111"/>
<rect x="62.06" y="617.92" width="1.8" height="1.8" fill="#111"/>
<rect x="72.58" y="617.92" width="1.8" height="1.8" fill="#111"/>
<rect x="83.10" y="617.92" width="1.8" height="1.8" fill="#111"/>
<rect x="93.62" y="617.92" width="1.8" height="1.8" fill="#111"/>
<rect x="104.14" y="617.92" width="1.8" height="1.8" fill="#111"/>
<rect x="114.66" y="617.92" width="1.8" height="1.8" fill="#111"/>
<rect x="125.18" y="617.92" width="1.8" height="1.8" fill="#111"/>
<rect x="135.70" y="617.92" width="1.8" height="1.8" fill="#111"/>
<rect x="146.22" y="617.92" width="1.8" height="1.8" fill="#111"/>
<rect x="156.74" y="617.92" width="1.8" height="1.8" fill="#111"/>
<rect x="167.26" y="617.92" width="1.8" height="1.8" fill="#111"/>
<rect x="177.78" y="617.92" width="1.8" height="1.8" fill="#111"/>
<rect x="188.30" y="617.92" width="1.8" height="1.8" fill="#111"/>
<rect x="198.82" y="617.92" width="1.8" height="1.8" fill="#111"/>
<rect x="209.34" y="617.92" width="1.8" height="1.8" fill="#111"/>
<rect x="219.86" y="617.92" width="1.8" height="1.8" fill="#111"/>
<rect x="230.38" y="617.92" width="1.8" height="1.8" fill="#111"/>
<rect x="240.90" y="617.92" width="1.8" height="1.8" fill="#111"/>
<rect x="251.42" y="617.92" width="1.8" height="1.8" fill="#111"/>
<rect x="261.94" y="617.92" width="1.8" height="1.8" fill="#111"/>
<rect x="272.46" y="617.92" width="1.8" height="1.8" fill="#111"/>
<rect x="282.98" y="617.92" width="1.8" height="1.8" fill="#111"/>
<rect x="293.50" y="617.92" width="1.8" height="1.8" fill="#111"/>
<rect x="304.02" y="617.92" width="1.8" height="1.8" fill="#111"/>
</g>
<clipPath id="lb"><path d="M47.5,496.2 H99.8 V563.8 A9,9 0 0 1 90.8,572.8 H47.5 Z"/></clipPath>
<clipPath id="rb"><path d="M265.4,496.2 H313.8 A2.2,2.2 0 0 1 316,498.4 V572.5 H271.4 A6,6 0 0 1 265.4,566.5 Z"/></clipPath>
<path d="M47.5,496.2 H99.8 V563.8 A9,9 0 0 1 90.8,572.8 H47.5 Z" fill="#fff"/>
<path d="M265.4,496.2 H313.8 A2.2,2.2 0 0 1 316,498.4 V572.5 H271.4 A6,6 0 0 1 265.4,566.5 Z" fill="#fff"/>
<g clip-path="url(#lb)"><line x1="0" y1="-114" x2="400" y2="286" stroke="#000" stroke-width="1.8"/><line x1="0" y1="-100" x2="400" y2="300" stroke="#000" stroke-width="1.8"/><line x1="0" y1="-74" x2="400" y2="326" stroke="#000" stroke-width="1.8"/><line x1="0" y1="-60" x2="400" y2="340" stroke="#000" stroke-width="1.8"/><line x1="0" y1="-34" x2="400" y2="366" stroke="#000" stroke-width="1.8"/><line x1="0" y1="-20" x2="400" y2="380" stroke="#000" stroke-width="1.8"/><line x1="0" y1="6" x2="400" y2="406" stroke="#000" stroke-width="1.8"/><line x1="0" y1="20" x2="400" y2="420" stroke="#000" stroke-width="1.8"/><line x1="0" y1="46" x2="400" y2="446" stroke="#000" stroke-width="1.8"/><line x1="0" y1="60" x2="400" y2="460" stroke="#000" stroke-width="1.8"/><line x1="0" y1="86" x2="400" y2="486" stroke="#000" stroke-width="1.8"/><line x1="0" y1="100" x2="400" y2="500" stroke="#000" stroke-width="1.8"/><line x1="0" y1="126" x2="400" y2="526" stroke="#000" stroke-width="1.8"/><line x1="0" y1="140" x2="400" y2="540" stroke="#000" stroke-width="1.8"/><line x1="0" y1="166" x2="400" y2="566" stroke="#000" stroke-width="1.8"/><line x1="0" y1="180" x2="400" y2="580" stroke="#000" stroke-width="1.8"/><line x1="0" y1="206" x2="400" y2="606" stroke="#000" stroke-width="1.8"/><line x1="0" y1="220" x2="400" y2="620" stroke="#000" stroke-width="1.8"/><line x1="0" y1="246" x2="400" y2="646" stroke="#000" stroke-width="1.8"/><line x1="0" y1="260" x2="400" y2="660" stroke="#000" stroke-width="1.8"/><line x1="0" y1="286" x2="400" y2="686" stroke="#000" stroke-width="1.8"/><line x1="0" y1="300" x2="400" y2="700" stroke="#000" stroke-width="1.8"/><line x1="0" y1="326" x2="400" y2="726" stroke="#000" stroke-width="1.8"/><line x1="0" y1="340" x2="400" y2="740" stroke="#000" stroke-width="1.8"/><line x1="0" y1="366" x2="400" y2="766" stroke="#000" stroke-width="1.8"/><line x1="0" y1="380" x2="400" y2="780" stroke="#000" stroke-width="1.8"/><line x1="0" y1="406" x2="400" y2="806" stroke="#000" stroke-width="1.8"/><line x1="0" y1="420" x2="400" y2="820" stroke="#000" stroke-width="1.8"/><line x1="0" y1="446" x2="400" y2="846" stroke="#000" stroke-width="1.8"/><line x1="0" y1="460" x2="400" y2="860" stroke="#000" stroke-width="1.8"/><line x1="0" y1="486" x2="400" y2="886" stroke="#000" stroke-width="1.8"/><line x1="0" y1="500" x2="400" y2="900" stroke="#000" stroke-width="1.8"/><line x1="0" y1="526" x2="400" y2="926" stroke="#000" stroke-width="1.8"/><line x1="0" y1="540" x2="400" y2="940" stroke="#000" stroke-width="1.8"/><line x1="0" y1="566" x2="400" y2="966" stroke="#000" stroke-width="1.8"/><line x1="0" y1="580" x2="400" y2="980" stroke="#000" stroke-width="1.8"/><line x1="0" y1="606" x2="400" y2="1006" stroke="#000" stroke-width="1.8"/><line x1="0" y1="620" x2="400" y2="1020" stroke="#000" stroke-width="1.8"/><line x1="0" y1="646" x2="400" y2="1046" stroke="#000" stroke-width="1.8"/><line x1="0" y1="660" x2="400" y2="1060" stroke="#000" stroke-width="1.8"/><line x1="0" y1="686" x2="400" y2="1086" stroke="#000" stroke-width="1.8"/><line x1="0" y1="700" x2="400" y2="1100" stroke="#000" stroke-width="1.8"/><line x1="0" y1="726" x2="400" y2="1126" stroke="#000" stroke-width="1.8"/><line x1="0" y1="740" x2="400" y2="1140" stroke="#000" stroke-width="1.8"/><line x1="0" y1="766" x2="400" y2="1166" stroke="#000" stroke-width="1.8"/><line x1="0" y1="780" x2="400" y2="1180" stroke="#000" stroke-width="1.8"/></g>
<g clip-path="url(#rb)"><line x1="0" y1="-113" x2="400" y2="287" stroke="#000" stroke-width="1.8"/><line x1="0" y1="-99" x2="400" y2="301" stroke="#000" stroke-width="1.8"/><line x1="0" y1="-73" x2="400" y2="327" stroke="#000" stroke-width="1.8"/><line x1="0" y1="-59" x2="400" y2="341" stroke="#000" stroke-width="1.8"/><line x1="0" y1="-33" x2="400" y2="367" stroke="#000" stroke-width="1.8"/><line x1="0" y1="-19" x2="400" y2="381" stroke="#000" stroke-width="1.8"/><line x1="0" y1="7" x2="400" y2="407" stroke="#000" stroke-width="1.8"/><line x1="0" y1="21" x2="400" y2="421" stroke="#000" stroke-width="1.8"/><line x1="0" y1="47" x2="400" y2="447" stroke="#000" stroke-width="1.8"/><line x1="0" y1="61" x2="400" y2="461" stroke="#000" stroke-width="1.8"/><line x1="0" y1="87" x2="400" y2="487" stroke="#000" stroke-width="1.8"/><line x1="0" y1="101" x2="400" y2="501" stroke="#000" stroke-width="1.8"/><line x1="0" y1="127" x2="400" y2="527" stroke="#000" stroke-width="1.8"/><line x1="0" y1="141" x2="400" y2="541" stroke="#000" stroke-width="1.8"/><line x1="0" y1="167" x2="400" y2="567" stroke="#000" stroke-width="1.8"/><line x1="0" y1="181" x2="400" y2="581" stroke="#000" stroke-width="1.8"/><line x1="0" y1="207" x2="400" y2="607" stroke="#000" stroke-width="1.8"/><line x1="0" y1="221" x2="400" y2="621" stroke="#000" stroke-width="1.8"/><line x1="0" y1="247" x2="400" y2="647" stroke="#000" stroke-width="1.8"/><line x1="0" y1="261" x2="400" y2="661" stroke="#000" stroke-width="1.8"/><line x1="0" y1="287" x2="400" y2="687" stroke="#000" stroke-width="1.8"/><line x1="0" y1="301" x2="400" y2="701" stroke="#000" stroke-width="1.8"/><line x1="0" y1="327" x2="400" y2="727" stroke="#000" stroke-width="1.8"/><line x1="0" y1="341" x2="400" y2="741" stroke="#000" stroke-width="1.8"/><line x1="0" y1="367" x2="400" y2="767" stroke="#000" stroke-width="1.8"/><line x1="0" y1="381" x2="400" y2="781" stroke="#000" stroke-width="1.8"/><line x1="0" y1="407" x2="400" y2="807" stroke="#000" stroke-width="1.8"/><line x1="0" y1="421" x2="400" y2="821" stroke="#000" stroke-width="1.8"/><line x1="0" y1="447" x2="400" y2="847" stroke="#000" stroke-width="1.8"/><line x1="0" y1="461" x2="400" y2="861" stroke="#000" stroke-width="1.8"/><line x1="0" y1="487" x2="400" y2="887" stroke="#000" stroke-width="1.8"/><line x1="0" y1="501" x2="400" y2="901" stroke="#000" stroke-width="1.8"/><line x1="0" y1="527" x2="400" y2="927" stroke="#000" stroke-width="1.8"/><line x1="0" y1="541" x2="400" y2="941" stroke="#000" stroke-width="1.8"/><line x1="0" y1="567" x2="400" y2="967" stroke="#000" stroke-width="1.8"/><line x1="0" y1="581" x2="400" y2="981" stroke="#000" stroke-width="1.8"/><line x1="0" y1="607" x2="400" y2="1007" stroke="#000" stroke-width="1.8"/><line x1="0" y1="621" x2="400" y2="1021" stroke="#000" stroke-width="1.8"/><line x1="0" y1="647" x2="400" y2="1047" stroke="#000" stroke-width="1.8"/><line x1="0" y1="661" x2="400" y2="1061" stroke="#000" stroke-width="1.8"/><line x1="0" y1="687" x2="400" y2="1087" stroke="#000" stroke-width="1.8"/><line x1="0" y1="701" x2="400" y2="1101" stroke="#000" stroke-width="1.8"/><line x1="0" y1="727" x2="400" y2="1127" stroke="#000" stroke-width="1.8"/><line x1="0" y1="741" x2="400" y2="1141" stroke="#000" stroke-width="1.8"/><line x1="0" y1="767" x2="400" y2="1167" stroke="#000" stroke-width="1.8"/><line x1="0" y1="781" x2="400" y2="1181" stroke="#000" stroke-width="1.8"/></g>
<path d="M47.5,496.2 H99.8 V563.8 A9,9 0 0 1 90.8,572.8 H47.5 Z" fill="none" stroke="#000" stroke-width="1.8"/>
<path d="M265.4,496.2 H313.8 A2.2,2.2 0 0 1 316,498.4 V572.5 H271.4 A6,6 0 0 1 265.4,566.5 Z" fill="none" stroke="#000" stroke-width="1.8"/>
<path d="M135.1,493.3 A7,7 0 0 1 128.1,500.3 H100" fill="none" stroke="#000" stroke-width="1.8"/>
<path d="M230,493.3 A7,7 0 0 0 237,500.3 H265.4" fill="none" stroke="#000" stroke-width="1.8"/>
<path d="M57,572.8 V615 A7,7 0 0 0 64,622.2 H300.5 A8,8 0 0 0 308.5,614.2 V572.5" fill="none" stroke="#000" stroke-width="1.8"/>
<path d="M133.1,437 V491.2 A5,5 0 0 1 128.1,496.2 H47.5" fill="none" stroke="#000" stroke-width="1.8"/>
<path d="M232,437 V491.2 A5,5 0 0 0 237,496.2 H316" fill="none" stroke="#000" stroke-width="1.8"/>
<clipPath id="lw"><path d="M135.1,437 H148 V622.2 H135.1 Z"/></clipPath>
<clipPath id="rw"><path d="M216.7,437 H229.9 V622.2 H216.7 Z"/></clipPath>
<g clip-path="url(#lw)"><line x1="100" y1="483.91" x2="260" y2="344.71" stroke="#000" stroke-width="1.6"/><line x1="100" y1="491.41" x2="260" y2="352.21" stroke="#000" stroke-width="1.6"/><line x1="100" y1="503.91" x2="260" y2="364.71" stroke="#000" stroke-width="1.6"/><line x1="100" y1="511.41" x2="260" y2="372.21" stroke="#000" stroke-width="1.6"/><line x1="100" y1="523.91" x2="260" y2="384.71" stroke="#000" stroke-width="1.6"/><line x1="100" y1="531.41" x2="260" y2="392.21" stroke="#000" stroke-width="1.6"/><line x1="100" y1="543.91" x2="260" y2="404.71" stroke="#000" stroke-width="1.6"/><line x1="100" y1="551.41" x2="260" y2="412.21" stroke="#000" stroke-width="1.6"/><line x1="100" y1="563.91" x2="260" y2="424.71" stroke="#000" stroke-width="1.6"/><line x1="100" y1="571.41" x2="260" y2="432.21" stroke="#000" stroke-width="1.6"/><line x1="100" y1="583.91" x2="260" y2="444.71" stroke="#000" stroke-width="1.6"/><line x1="100" y1="591.41" x2="260" y2="452.21" stroke="#000" stroke-width="1.6"/><line x1="100" y1="603.91" x2="260" y2="464.71" stroke="#000" stroke-width="1.6"/><line x1="100" y1="611.41" x2="260" y2="472.21" stroke="#000" stroke-width="1.6"/><line x1="100" y1="623.91" x2="260" y2="484.71" stroke="#000" stroke-width="1.6"/><line x1="100" y1="631.41" x2="260" y2="492.21" stroke="#000" stroke-width="1.6"/><line x1="100" y1="643.91" x2="260" y2="504.71" stroke="#000" stroke-width="1.6"/><line x1="100" y1="651.41" x2="260" y2="512.21" stroke="#000" stroke-width="1.6"/><line x1="100" y1="663.91" x2="260" y2="524.71" stroke="#000" stroke-width="1.6"/><line x1="100" y1="671.41" x2="260" y2="532.21" stroke="#000" stroke-width="1.6"/><line x1="100" y1="683.91" x2="260" y2="544.71" stroke="#000" stroke-width="1.6"/><line x1="100" y1="691.41" x2="260" y2="552.21" stroke="#000" stroke-width="1.6"/><line x1="100" y1="703.91" x2="260" y2="564.71" stroke="#000" stroke-width="1.6"/><line x1="100" y1="711.41" x2="260" y2="572.21" stroke="#000" stroke-width="1.6"/></g>
<g clip-path="url(#rw)"><line x1="100" y1="552.85" x2="260" y2="413.65" stroke="#000" stroke-width="1.6"/><line x1="100" y1="560.45" x2="260" y2="421.25" stroke="#000" stroke-width="1.6"/><line x1="100" y1="572.85" x2="260" y2="433.65" stroke="#000" stroke-width="1.6"/><line x1="100" y1="580.45" x2="260" y2="441.25" stroke="#000" stroke-width="1.6"/><line x1="100" y1="592.85" x2="260" y2="453.65" stroke="#000" stroke-width="1.6"/><line x1="100" y1="600.45" x2="260" y2="461.25" stroke="#000" stroke-width="1.6"/><line x1="100" y1="612.85" x2="260" y2="473.65" stroke="#000" stroke-width="1.6"/><line x1="100" y1="620.45" x2="260" y2="481.25" stroke="#000" stroke-width="1.6"/><line x1="100" y1="632.85" x2="260" y2="493.65" stroke="#000" stroke-width="1.6"/><line x1="100" y1="640.45" x2="260" y2="501.25" stroke="#000" stroke-width="1.6"/><line x1="100" y1="652.85" x2="260" y2="513.65" stroke="#000" stroke-width="1.6"/><line x1="100" y1="660.45" x2="260" y2="521.25" stroke="#000" stroke-width="1.6"/><line x1="100" y1="672.85" x2="260" y2="533.65" stroke="#000" stroke-width="1.6"/><line x1="100" y1="680.45" x2="260" y2="541.25" stroke="#000" stroke-width="1.6"/><line x1="100" y1="692.85" x2="260" y2="553.65" stroke="#000" stroke-width="1.6"/><line x1="100" y1="700.45" x2="260" y2="561.25" stroke="#000" stroke-width="1.6"/><line x1="100" y1="712.85" x2="260" y2="573.65" stroke="#000" stroke-width="1.6"/><line x1="100" y1="720.45" x2="260" y2="581.25" stroke="#000" stroke-width="1.6"/><line x1="100" y1="732.85" x2="260" y2="593.65" stroke="#000" stroke-width="1.6"/><line x1="100" y1="740.45" x2="260" y2="601.25" stroke="#000" stroke-width="1.6"/><line x1="100" y1="752.85" x2="260" y2="613.65" stroke="#000" stroke-width="1.6"/><line x1="100" y1="760.45" x2="260" y2="621.25" stroke="#000" stroke-width="1.6"/><line x1="100" y1="772.85" x2="260" y2="633.65" stroke="#000" stroke-width="1.6"/><line x1="100" y1="780.45" x2="260" y2="641.25" stroke="#000" stroke-width="1.6"/></g>
<line x1="135.1" y1="437" x2="135.1" y2="622.2" stroke="#000" stroke-width="2.0" stroke-linecap="butt"/>
<line x1="148" y1="437" x2="148" y2="622.2" stroke="#000" stroke-width="1.9" stroke-linecap="butt"/>
<line x1="216.7" y1="437" x2="216.7" y2="622.2" stroke="#000" stroke-width="1.9" stroke-linecap="butt"/>
<line x1="229.9" y1="437" x2="229.9" y2="622.2" stroke="#000" stroke-width="2.0" stroke-linecap="butt"/>
<line x1="132.2" y1="437" x2="233" y2="437" stroke="#000" stroke-width="1.9" stroke-linecap="butt"/>
<line x1="182.4" y1="432.2" x2="182.4" y2="455.4" stroke="#5a5a5a" stroke-width="2.0" stroke-linecap="round"/>
<line x1="182.4" y1="470.3" x2="182.4" y2="483.9" stroke="#5a5a5a" stroke-width="2.0" stroke-linecap="round"/>
<line x1="182.4" y1="498.2" x2="182.4" y2="581.6" stroke="#5a5a5a" stroke-width="2.0" stroke-linecap="round"/>
<line x1="182.4" y1="596.5" x2="182.4" y2="598.8" stroke="#5a5a5a" stroke-width="2.0" stroke-linecap="round"/>
<line x1="182.4" y1="604.2" x2="182.4" y2="626.3" stroke="#5a5a5a" stroke-width="2.0" stroke-linecap="round"/>
<line x1="112.3" y1="416.2" x2="165.6" y2="416.2" stroke="#000" stroke-width="1.8" stroke-linecap="butt"/>
<line x1="195.5" y1="416.2" x2="252" y2="416.2" stroke="#000" stroke-width="1.8" stroke-linecap="butt"/>
<polygon points="147.5,416.2 131.50,419.20 131.50,413.20" fill="#000"/>
<polygon points="217,416.2 233.00,413.20 233.00,419.20" fill="#000"/>
<line x1="148" y1="407.8" x2="148" y2="431.3" stroke="#000" stroke-width="1.8" stroke-linecap="butt"/>
<line x1="216.7" y1="407.8" x2="216.7" y2="431.3" stroke="#000" stroke-width="1.8" stroke-linecap="butt"/>
<text x="183" y="423.9" font-size="23" text-anchor="middle">H</text>
<line x1="13.2" y1="496.2" x2="41.6" y2="496.2" stroke="#000" stroke-width="1.8" stroke-linecap="butt"/>
<line x1="13.2" y1="572.8" x2="41.6" y2="572.8" stroke="#000" stroke-width="1.8" stroke-linecap="butt"/>
<polygon points="21.7,497.5 24.70,513.50 18.70,513.50" fill="#000"/>
<line x1="21.7" y1="512" x2="21.7" y2="518.6" stroke="#000" stroke-width="1.8" stroke-linecap="butt"/>
<polygon points="21.7,571.5 18.70,555.50 24.70,555.50" fill="#000"/>
<line x1="21.7" y1="548.4" x2="21.7" y2="557" stroke="#000" stroke-width="1.8" stroke-linecap="butt"/>
<text x="21.4" y="543.5" font-size="23" text-anchor="middle">T</text>
<line x1="330.4" y1="509.1" x2="279" y2="560.8" stroke="#000" stroke-width="1.8" stroke-linecap="butt"/>
<polygon points="270.0,567.9 280.18,552.63 285.27,557.72" fill="#000"/>
<text x="338.8" y="506.7" font-size="23" text-anchor="middle">R</text>
</svg></body></html>
